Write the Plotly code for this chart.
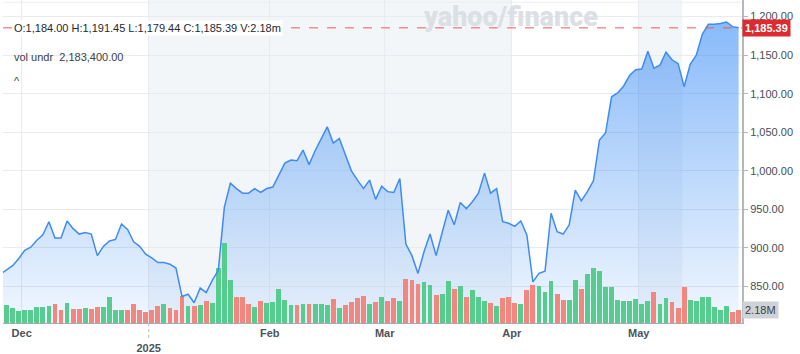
import plotly.graph_objects as go
import pandas as pd

# ---------------- data ----------------
holidays = ["2024-11-28", "2024-12-25", "2025-01-01", "2025-01-09",
            "2025-01-20", "2025-02-17", "2025-04-18"]
dates = [d for d in pd.bdate_range("2024-11-25", "2025-05-23")
         if d.strftime("%Y-%m-%d") not in holidays]

close = [866, 872, 877, 886, 897, 901, 910, 917, 934, 913,
         913, 935, 925, 918, 920, 918, 890, 902, 909, 911,
         931, 924, 908, 902, 892, 887, 881, 881, 879, 874,
         837, 840, 829, 848, 842, 858, 871, 953, 984, 977,
         971, 971, 977, 972, 977, 979, 994, 1010, 1014, 1013,
         1027, 1008, 1026, 1042, 1057, 1036, 1042, 1021, 1000, 988,
         977, 988, 963, 980, 973, 972, 990, 905, 890, 867,
         895, 918, 890, 920, 949, 930, 959, 951, 960, 971,
         997, 971, 977, 934, 932, 928, 935, 917, 856, 867,
         870, 945, 921, 918, 930, 975, 961, 973, 987, 1040,
         1049, 1096, 1101, 1110, 1124, 1131, 1132, 1155, 1133, 1137,
         1154, 1144, 1139, 1109, 1138, 1150, 1177, 1190, 1190, 1191,
         1193, 1187, 1185.39]

volume_m = [2.58, 3.04, 2.52, 2.01, 2.28, 2.28, 2.70, 2.80, 2.92, 3.21,
            2.28, 3.43, 2.40, 2.40, 2.52, 2.40, 2.80, 2.80, 4.41, 2.28,
            2.28, 2.28, 3.21, 2.18, 1.89, 2.28, 2.92, 3.31, 2.52, 2.28,
            4.64, 2.92, 2.92, 3.04, 3.83, 3.43, 9.56, 13.79, 7.43, 4.41,
            4.52, 3.31, 2.80, 3.73, 3.43, 3.55, 5.84, 4.00, 3.04, 3.04,
            3.21, 3.21, 3.31, 3.31, 3.04, 4.12, 2.52, 3.04, 3.61, 4.24,
            4.64, 3.31, 3.61, 4.52, 3.73, 4.24, 3.73, 7.55, 7.38, 6.75,
            7.16, 6.58, 4.76, 5.03, 7.33, 5.84, 6.47, 4.41, 5.72, 4.52,
            3.73, 3.43, 2.92, 4.24, 4.52, 3.43, 3.21, 5.72, 6.64, 6.47,
            5.44, 7.33, 4.98, 4.00, 3.90, 7.43, 5.84, 8.53, 9.44, 9.05,
            6.30, 6.30, 3.90, 3.78, 3.78, 4.12, 3.31, 3.73, 5.44, 3.21,
            4.24, 3.61, 2.58, 6.23, 3.90, 3.78, 4.41, 4.52, 2.80, 2.18,
            2.92, 1.89, 2.18]

# G = up-day volume bar, R = down-day volume bar (groups of ten)
vol_dir = "".join([
    "GGGGGGGGGR", "RGRRGRRGGG", "GRRRRRRGRR", "RGRGRGGGGR", "RRGRGGGGGR",
    "GRGGGRGRRR", "RGRGRRGRRR", "GGRGGRGRGG", "GRGRRRGRRG", "GGRRGGRGGG",
    "GGGGGGGGRG", "GRRRGGGGGG", "GRR",
])

month_labels = ["<b>Dec</b>", "<br><b>2025</b>", "<b>Feb</b>", "<b>Mar</b>",
                "<b>Apr</b>", "<b>May</b>"]
ohlc_text = "O:1,184.00 H:1,191.45 L:1,179.44 C:1,185.39 V:2.18m"
vol_text = "vol undr  2,183,400.00"
last_close = close[-1]
last_vol = volume_m[-1]

# ---------------- derived ----------------
x = list(range(len(dates)))
month_starts = [i for i in range(1, len(dates)) if dates[i].month != dates[i - 1].month]
tickvals = [m - 0.5 for m in month_starts]
GREEN, RED = "#56cc8e", "#f2877f"
bar_colors = [GREEN if c == "G" else RED for c in vol_dir]

FONT = "Liberation Sans"
fig = go.Figure()

# filled area (below bars)
fig.add_trace(go.Scatter(
    x=x, y=close, mode="lines", line=dict(width=0, color="rgba(0,0,0,0)"),
    fill="tozeroy",
    fillgradient=dict(type="vertical", start=802.7, stop=1200,
                      colorscale=[[0, "rgba(40,130,245,0.06)"],
                                  [1, "rgba(40,130,245,0.56)"]]),
    hoverinfo="skip", showlegend=False, yaxis="y"))

# volume bars
fig.add_trace(go.Bar(x=x, y=volume_m, marker=dict(color=bar_colors, line=dict(width=0)),
                     width=0.8, showlegend=False, yaxis="y2"))

# price line (on top)
fig.add_trace(go.Scatter(x=x, y=close, mode="lines",
                         line=dict(color="#3f8bf4", width=1.5),
                         showlegend=False, yaxis="y3"))

yrange = [802.7, 1221.5]
grid = "#e8ebef"
fig.update_layout(
    width=800, height=354,
    margin=dict(l=3, r=58, t=0, b=29),
    paper_bgcolor="white", plot_bgcolor="white",
    font=dict(family=FONT, color="#464e56"),
    bargap=0,
    xaxis=dict(range=[0.41, 122.56], tickvals=tickvals, ticktext=month_labels,
               showgrid=True, gridcolor=grid, gridwidth=1,
               showline=True, linecolor="#a6abb2", linewidth=1,
               ticks="", zeroline=False,
               tickfont=dict(size=11, color="#4b535c", family=FONT)),
    yaxis=dict(range=yrange, side="right", tickvals=list(range(850, 1201, 50)),
               tickformat=",.2f", showgrid=True, gridcolor=grid,
               showline=True, linecolor="#b3b8be", linewidth=2,
               ticks="outside", ticklen=4, tickcolor="#b3b8be",
               tickfont=dict(size=11, color="#464e56"), zeroline=False),
    yaxis2=dict(range=[0, 55.8], overlaying="y", visible=False),
    yaxis3=dict(range=yrange, overlaying="y", visible=False),
    shapes=[
        dict(type="rect", xref="x", yref="paper", x0=24.5, x1=84.5, y0=0, y1=1,
             fillcolor="#f3f6f9", line=dict(width=0), layer="below"),
        dict(type="rect", xref="x", yref="paper", x0=105.5, x1=112.7, y0=0, y1=1,
             fillcolor="#f3f6f9", line=dict(width=0), layer="below"),
        dict(type="line", xref="paper", yref="paper", x0=0, x1=1, y0=0.993, y1=0.993,
             line=dict(color="#eceef1", width=1), layer="below"),
        dict(type="line", xref="paper", yref="y", x0=0, x1=1,
             y0=last_close, y1=last_close,
             line=dict(color="#ec5b5e", width=1, dash="dash"), layer="above"),
        dict(type="line", xref="x", yref="paper", x0=tickvals[1], x1=tickvals[1],
             y0=0, y1=-0.05, line=dict(color="#b8bcc2", width=1, dash="dot")),
    ],
    annotations=[
        dict(text="yahoo/finance", xref="paper", yref="paper",
             x=0.687, y=0.948, xanchor="center", yanchor="middle", showarrow=False,
             font=dict(size=27, color="#dcdfe3", family="Roboto", weight=900)),
        dict(text=ohlc_text, xref="paper", yref="y", x=0.0125, y=last_close,
             xanchor="left", yanchor="middle", showarrow=False,
             bgcolor="white", borderpad=1,
             font=dict(size=11, color="#232a31")),
        dict(text=vol_text, xref="paper", yref="paper", x=0.0125, y=0.822,
             xanchor="left", yanchor="middle", showarrow=False,
             font=dict(size=11, color="#3a4149")),
        dict(text="^", xref="paper", yref="paper", x=0.0195, y=0.748,
             xanchor="center", yanchor="middle",
             showarrow=False, font=dict(size=11, color="#3a4149")),
        dict(text="<b>" + f"{last_close:,.2f}" + "</b>", xref="paper", yref="y",
             x=1.0, y=last_close, xanchor="left", yanchor="middle", showarrow=False,
             bgcolor="#dc2a30", borderpad=2,
             font=dict(size=11, color="white")),
        dict(text=f"{last_vol:.2f}M", xref="paper", yref="y2",
             x=1.0, y=last_vol, xanchor="left", yanchor="middle", showarrow=False,
             bgcolor="#cfd3d8", borderpad=2,
             font=dict(size=11, color="#3a4149")),
    ],
)

fig.write_html("out.html")
